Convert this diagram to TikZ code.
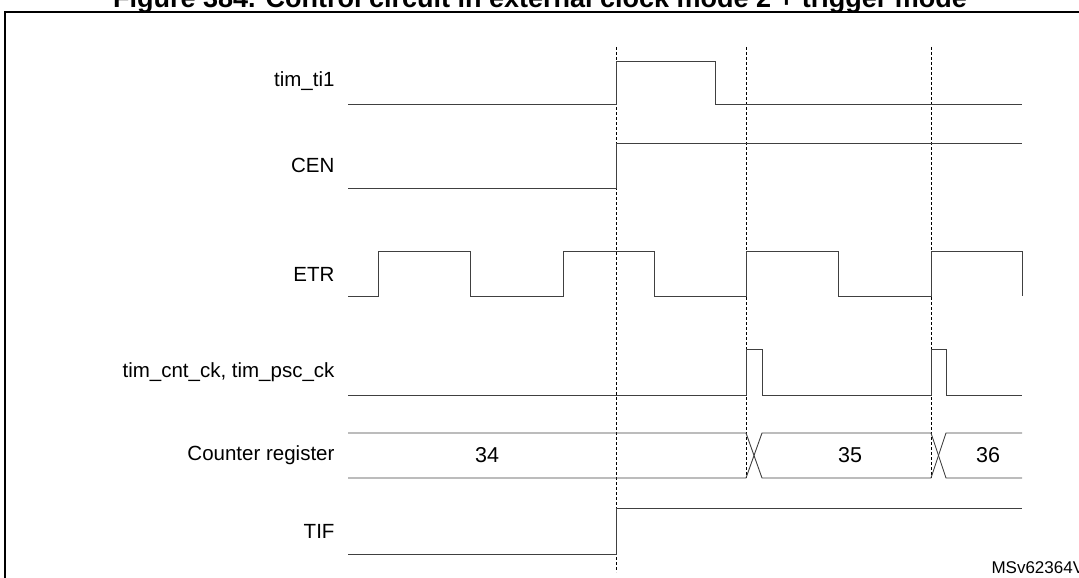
\documentclass[tikz,border=0pt]{standalone}
\usepackage{fontspec}
\setmainfont{Liberation Sans}
\begin{document}
\begin{tikzpicture}[x=1pt,y=-1pt,
  sig/.style={line width=0.9pt,draw=black!75},
  vdash/.style={densely dashed,line width=0.6pt},
  lbl/.style={anchor=east,font=\fontsize{20.5}{23}\selectfont},
  val/.style={font=\fontsize{21.5}{24}\selectfont}]
\useasboundingbox (0,0) rectangle (1079,578);
\node[font=\bfseries\fontsize{27}{30}\selectfont,anchor=base] (title) at (540,8) {Figure 384. Control circuit in external clock mode 2 + trigger mode};
\draw[line width=1.6pt] (1090,12) -- (5,12) -- (5,590);
% labels
\node[lbl] (l1) at (338,81) {tim\_ti1};
\node[lbl] (l2) at (338,165) {CEN};
\node[lbl] (l3) at (338,274) {ETR};
\node[lbl] (l4) at (338,372) {tim\_cnt\_ck, tim\_psc\_ck};
\node[lbl] (l5) at (338,455) {Counter register};
\node[lbl] (l6) at (338,531) {TIF};
% dashed
\draw[vdash] (616,47) -- (616,572);
\draw[vdash] (746,47) -- (746,478);
\draw[vdash] (931,47) -- (931,478);
% signals
\draw[sig] (348,104) -- (616,104) -- (616,61) -- (715,61) -- (715,104) -- (1022,104);
\draw[sig] (348,188) -- (616,188) -- (616,143) -- (1022,143);
\draw[sig] (348,296) -- (378,296) -- (378,251) -- (470,251) -- (470,296) -- (563,296) -- (563,251) -- (654,251) -- (654,296) -- (746,296) -- (746,251) -- (838,251) -- (838,296) -- (931,296) -- (931,251) -- (1022,251) -- (1022,296);
\draw[sig] (348,395) -- (746,395) -- (746,349) -- (762,349) -- (762,395) -- (931,395) -- (931,349) -- (946,349) -- (946,395) -- (1022,395);
\draw[sig] (348,433) -- (746,433) -- (762,478) -- (931,478) -- (946,433) -- (1022,433);
\draw[sig] (348,478) -- (746,478) -- (762,433) -- (931,433) -- (946,478) -- (1022,478);
\draw[sig] (348,554) -- (616,554) -- (616,508) -- (1022,508);
\node[val] (v34) at (487,455) {34};
\node[val] (v35) at (850,455) {35};
\node[val] (v36) at (988,455) {36};
\node[anchor=west,font=\fontsize{17}{19}\selectfont] (ms) at (988,568) {MSv62364V1};
\end{tikzpicture}
\end{document}
